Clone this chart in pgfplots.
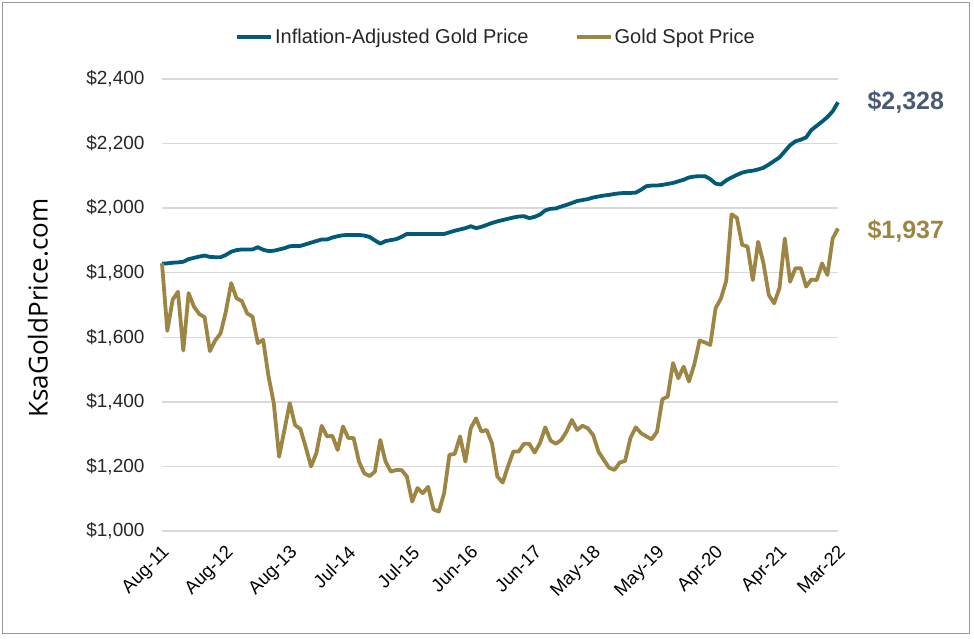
\documentclass[border=0pt]{standalone}
\usepackage{pgfplots}
\pgfplotsset{compat=1.18}
\usepackage{pgfplotstable}
\usepackage{fontspec}
\setmainfont{Liberation Sans}
\newfontfamily\osfont{Open Sans}
\definecolor{teal1}{RGB}{0,90,120}
\definecolor{gold1}{RGB}{157,134,67}
\definecolor{slate1}{RGB}{75,90,115}
\definecolor{grid1}{RGB}{217,217,217}

\pgfplotstableread{
i infl spot
0 1828 1829
1 1829 1620
2 1831 1716
3 1832 1741
4 1834 1559
5 1842 1737
6 1846 1695
7 1850 1672
8 1853 1662
9 1849 1557
10 1848 1590
11 1848 1612
12 1855 1680
13 1865 1768
14 1870 1721
15 1872 1712
16 1872 1674
17 1872 1664
18 1879 1582
19 1871 1592
20 1867 1480
21 1868 1396
22 1872 1230
23 1876 1313
24 1882 1396
25 1883 1328
26 1883 1316
27 1888 1260
28 1893 1200
29 1898 1241
30 1903 1326
31 1903 1293
32 1909 1295
33 1913 1251
34 1916 1324
35 1917 1288
36 1917 1288
37 1917 1215
38 1915 1179
39 1911 1170
40 1900 1184
41 1890 1282
42 1898 1215
43 1901 1184
44 1904 1189
45 1911 1189
46 1920 1169
47 1920 1091
48 1920 1133
49 1920 1117
50 1920 1137
51 1920 1067
52 1920 1060
53 1920 1117
54 1925 1236
55 1930 1239
56 1934 1293
57 1938 1215
58 1944 1318
59 1938 1349
60 1942 1308
61 1948 1313
62 1954 1271
63 1959 1169
64 1963 1150
65 1967 1200
66 1971 1246
67 1974 1246
68 1975 1270
69 1969 1270
70 1973 1243
71 1980 1272
72 1993 1321
73 1998 1280
74 1999 1270
75 2005 1282
76 2010 1308
77 2016 1344
78 2022 1313
79 2025 1326
80 2028 1318
81 2033 1297
82 2036 1246
83 2039 1220
84 2041 1196
85 2044 1189
86 2046 1212
87 2047 1217
88 2047 1288
89 2048 1321
90 2057 1303
91 2068 1293
92 2070 1284
93 2070 1308
94 2072 1408
95 2075 1416
96 2078 1520
97 2083 1473
98 2088 1509
99 2095 1463
100 2098 1516
101 2099 1590
102 2099 1584
103 2090 1576
104 2076 1690
105 2073 1720
106 2086 1775
107 2095 1981
108 2103 1970
109 2110 1886
110 2114 1881
111 2116 1777
112 2120 1896
113 2125 1829
114 2135 1731
115 2146 1705
116 2157 1752
117 2176 1906
118 2195 1772
119 2207 1814
120 2212 1814
121 2219 1757
122 2242 1779
123 2255 1777
124 2268 1829
125 2282 1793
126 2300 1906
127 2328 1937
}\golddata

\begin{document}
\begin{tikzpicture}
\path (0pt,0pt) rectangle (974pt,639pt);
\draw[black!40, line width=1pt] (2.5pt,5.5pt) rectangle (969.5pt,636pt);
\node[rotate=90, font=\osfont\fontsize{26}{26}\selectfont] at (38pt,331pt) {KsaGoldPrice.com};
\begin{axis}[
  at={(162pt,108pt)}, anchor=south west,
  width=676pt, height=452pt, scale only axis,
  xmin=0, xmax=127, ymin=1000, ymax=2400,
  axis line style={draw=none},
  tick style={draw=none},
  ymajorgrids, grid style={grid1, line width=1.5pt},
  ytick={1000,1200,1400,1600,1800,2000,2200,2400},
  yticklabels={{\$1,000},{\$1,200},{\$1,400},{\$1,600},{\$1,800},{\$2,000},{\$2,200},{\$2,400}},
  xtick={0,12,24,35,47,58,70,81,93,104,116,127},
  xticklabels={Aug-11,Aug-12,Aug-13,Jul-14,Jul-15,Jun-16,Jun-17,May-18,May-19,Apr-20,Apr-21,Mar-22},
  xticklabel style={yshift=-13pt, xshift=-1pt, rotate=45, anchor=north east, font=\fontsize{18.5}{18.5}\selectfont, inner sep=0pt},
  yticklabel style={font=\fontsize{19}{19}\selectfont, xshift=-14pt, text=black!85},
  legend columns=2,
  legend style={draw=none, fill=none, at={(0.494,1.093)}, anchor=center,
    font=\fontsize{20}{20}\selectfont, text=black!85,
    /tikz/every even column/.append style={column sep=44pt}},
  legend image code/.code={\draw[#1, line width=4pt] (0pt,0pt) -- (34pt,0pt);},
  clip=false,
]
\addplot[teal1, line width=3.8pt, line join=round] table[x=i, y=infl] {\golddata};
\addlegendentry{Inflation-Adjusted Gold Price}
\addplot[gold1, line width=3.8pt, line join=round] table[x=i, y=spot] {\golddata};
\addlegendentry{Gold Spot Price}
\node[anchor=west, font=\bfseries\fontsize{25}{25}\selectfont, text=slate1] at (axis cs:127,2328) [xshift=26pt] {\$2,328};
\node[anchor=west, font=\bfseries\fontsize{25}{25}\selectfont, text=gold1] at (axis cs:127,1928) [xshift=26pt] {\$1,937};
\end{axis}
\end{tikzpicture}
\end{document}
